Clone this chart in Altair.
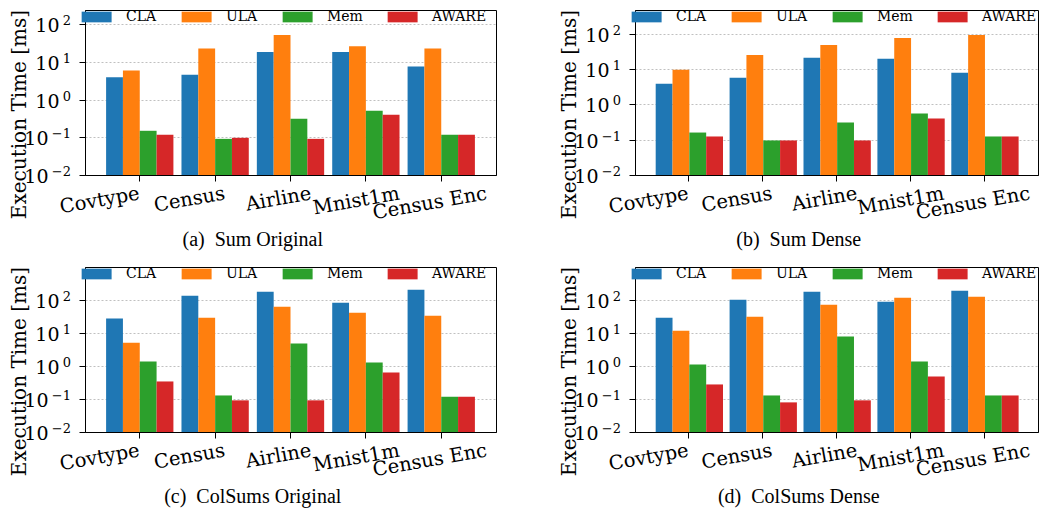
import altair as alt
import pandas as pd

DATASETS = ["Covtype", "Census", "Airline", "Mnist1m", "Census Enc"]
METHODS = ["CLA", "ULA", "Mem", "AWARE"]
COLORS = ["#1f77b4", "#ff7f0e", "#2ca02c", "#d62728"]

SUM_ORIGINAL = {
    "CLA": [3.9, 4.6, 18.3, 18.3, 7.6],
    "ULA": [5.9, 22.9, 52.0, 25.9, 22.9],
    "Mem": [0.149, 0.091, 0.311, 0.509, 0.117],
    "AWARE": [0.117, 0.097, 0.091, 0.398, 0.117],
}
SUM_DENSE = {
    "CLA": [3.8, 5.6, 20.6, 19.3, 7.8],
    "ULA": [9.5, 25.0, 48.0, 75.5, 91.6],
    "Mem": [0.159, 0.095, 0.305, 0.546, 0.123],
    "AWARE": [0.123, 0.095, 0.095, 0.394, 0.123],
}
COLSUMS_ORIGINAL = {
    "CLA": [27.3, 135.0, 179.0, 83.0, 205.0],
    "ULA": [5.1, 29.2, 62.9, 41.4, 33.6],
    "Mem": [1.37, 0.128, 4.8, 1.28, 0.117],
    "AWARE": [0.34, 0.091, 0.091, 0.637, 0.117],
}
COLSUMS_DENSE = {
    "CLA": [29.2, 102.0, 179.0, 89.0, 191.0],
    "ULA": [11.8, 31.3, 72.3, 117.6, 126.0],
    "Mem": [1.11, 0.128, 7.8, 1.37, 0.128],
    "AWARE": [0.276, 0.079, 0.091, 0.482, 0.128],
}

CAPTIONS = ["(a)\u00a0 Sum Original", "(b)\u00a0 Sum Dense",
            "(c)\u00a0 ColSums Original", "(d)\u00a0 ColSums Dense"]
Y_TOPS = [239, 466, 1000, 1000]
TICK_VALUES = [0.01, 0.1, 1, 10, 100]
TICK_BASE = "10"
TICK_EXPONENTS = ["\u22122", "\u22121", "0", "1", "2"]
Y_TITLE = "Execution Time [ms]"

# layout: horizontal nudge of the rotated category labels (px)
LABEL_NUDGE = [-2, 8, 19, 32, 44]

SERIF = "DejaVu Serif"
CAPTION_FONT = "Liberation Serif"

exp_expr = "".join(
    f"datum.value < {v * 3} ? '{e}' : " for v, e in zip(TICK_VALUES, TICK_EXPONENTS)
) + "''"
base_pad_expr = "datum.value < 0.5 ? 31 : 20"
nudge_expr = "".join(
    f"datum.value == '{d}' ? {n} : " for d, n in zip(DATASETS, LABEL_NUDGE)
) + "0"


def panel(values, caption, ytop, width):
    rows = []
    for m in METHODS:
        for i, d in enumerate(DATASETS):
            rows.append({"dataset": d, "method": m, "value": values[m][i]})
    df = pd.DataFrame(rows)
    yscale = alt.Scale(type="log", domain=[0.01, ytop], nice=False)
    xenc = alt.X(
        "dataset:N", sort=DATASETS,
        scale=alt.Scale(paddingInner=0.107, paddingOuter=0.28),
        axis=alt.Axis(
            title=None, labelAngle=350, labelAlign="right",
            labelBaseline="top", labelFontSize=19.5, labelPadding=3,
            labelOffset={"expr": nudge_expr},
            tickSize=6, grid=False,
        ),
    )
    bars = (
        alt.Chart(df)
        .mark_bar()
        .encode(
            x=xenc,
            xOffset=alt.XOffset(
                "method:N", sort=METHODS,
                scale=alt.Scale(paddingInner=0, paddingOuter=0),
            ),
            y=alt.Y(
                "value:Q", stack=False, scale=yscale,
                axis=alt.Axis(
                    orient="left", values=TICK_VALUES,
                    labelExpr=f"'{TICK_BASE}'", title=Y_TITLE,
                    titleX=-59.5, titleY=104, titleAngle=270,
                    titleBaseline="alphabetic", titleAlign="center",
                    labelFontSize=19, labelPadding={"expr": base_pad_expr},
                    labelOffset=1.5, tickSize=6,
                    grid=True, gridDash=[2, 2], gridColor="#b0b0b0",
                    gridWidth=0.8,
                ),
            ),
            color=alt.Color(
                "method:N", sort=METHODS,
                scale=alt.Scale(domain=METHODS, range=COLORS),
                legend=alt.Legend(
                    title=None, orient="none", legendX=-5, legendY=0,
                    direction="horizontal", columns=4,
                    symbolType="M-1,-1H4.6V1H-1Z", symbolSize=114.5,
                    symbolStrokeWidth=0, symbolOpacity=1,
                    labelFont=SERIF, labelFontSize=14, labelColor="black",
                    labelOffset=32, columnPadding=23, padding=0,
                ),
            ),
        )
    )
    exponents = (
        alt.Chart(df)
        .mark_point(opacity=0)
        .encode(
            x=alt.X("dataset:N", sort=DATASETS),
            y=alt.Y(
                "value:Q", stack=False, scale=yscale,
                axis=alt.Axis(
                    orient="left", values=TICK_VALUES, labelExpr=exp_expr,
                    title=None, labelFontSize=13, labelAlign="right",
                    labelPadding=8.5, labelOffset=-3.5, tickSize=6,
                    tickOpacity=0, domain=False, grid=False,
                ),
            ),
        )
    )
    return (
        alt.layer(bars, exponents)
        .resolve_axis(y="independent")
        .properties(
            width=width, height=165,
            title=alt.TitleParams(
                caption, orient="bottom", anchor="middle", frame="bounds",
                font=CAPTION_FONT, fontSize=20, fontWeight="normal",
                color="black", offset=8,
            ),
        )
    )


charts = [
    panel(SUM_ORIGINAL, CAPTIONS[0], Y_TOPS[0], 411),
    panel(SUM_DENSE, CAPTIONS[1], Y_TOPS[1], 403),
    panel(COLSUMS_ORIGINAL, CAPTIONS[2], Y_TOPS[2], 411),
    panel(COLSUMS_DENSE, CAPTIONS[3], Y_TOPS[3], 403),
]

chart = (
    alt.concat(*charts, columns=2, spacing={"row": 92, "column": 139}, bounds="flush")
    .resolve_scale(y="independent", x="independent", color="independent")
    .resolve_legend(color="independent")
    .properties(padding={"top": 0, "left": 0, "right": 0, "bottom": 0},
                background="white")
    .configure_view(stroke="black", strokeWidth=1)
    .configure_axis(
        domainColor="black", tickColor="black", labelColor="black",
        titleColor="black", labelFont=SERIF, titleFont=SERIF,
        titleFontWeight="normal", titleFontSize=20, domainWidth=1, tickWidth=1,
    )
)

chart.save("out.html", embed_options={"renderer": "svg", "actions": False})
